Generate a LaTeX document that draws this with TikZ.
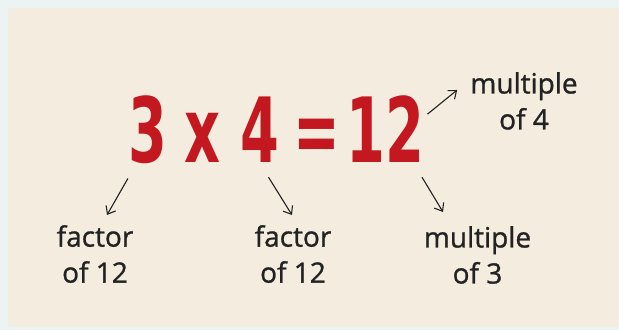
\documentclass[tikz,border=0pt]{standalone}
\usepackage{fontspec}
\setmainfont{Open Sans}
\newfontfamily\lblfont{Open Sans}[FakeBold=1.0]
\newfontfamily\eqfont{DejaVu Sans}
\usetikzlibrary{arrows.meta}
\definecolor{paper}{RGB}{244,236,222}
\definecolor{edge}{RGB}{236,243,243}
\definecolor{eqred}{RGB}{196,24,32}
\definecolor{ink}{RGB}{34,34,34}
\tikzset{
  eqpart/.style={anchor=base, inner sep=0pt, text=eqred, font=\eqfont\bfseries\fontsize{90}{90}\selectfont},
  lbl/.style={anchor=north, inner sep=0pt, align=center, text=ink, font=\lblfont\fontsize{28}{36}\selectfont},
  arr/.style={draw=ink, line width=1.1pt, -{Straight Barb[length=7pt,width=11pt]}}
}
\newcommand{\nar}[1]{\scalebox{0.62}[1]{#1}}
\begin{document}
\begin{tikzpicture}[x=1pt,y=-1pt]
\useasboundingbox (0,0) rectangle (619,330);
\fill[edge] (0,0) rectangle (619,330);
\fill[paper] (8,8) rectangle (619,327);
% equation
\node[eqpart] (n3) at (147.5,162) {\nar{3}};
\node[eqpart] (nx) at (202.5,162) {\nar{x}};
\node[eqpart] (n4) at (259.5,162) {\nar{4}};
\node[eqpart] (neq) at (316.5,162) {\nar{=}};
\node[eqpart] (n12) at (385.5,162) {\nar{12}};
% labels
\node[lbl] (f1) at (95,225) {factor\\of 12};
\node[lbl] (f2) at (293,225) {factor\\of 12};
\node[lbl] (m3) at (477.5,226) {multiple\\of 3};
\node[lbl] (m4) at (524,72) {multiple\\of 4};
% arrows
\draw[arr] ([yshift=-15pt]n3.south west) -- ([xshift=12pt,yshift=10pt]f1.north);
\draw[arr] ([xshift=9pt,yshift=-15pt]n4.south) -- ([xshift=-1pt,yshift=10pt]f2.north);
\draw[arr] ([xshift=36.5pt,yshift=-15pt]n12.south) -- ([xshift=-34.5pt,yshift=14pt]m3.north);
\draw[arr] ([xshift=3pt,yshift=14.5pt]n12.east) -- ([xshift=-13pt,yshift=11pt]m4.west);
\end{tikzpicture}
\end{document}
